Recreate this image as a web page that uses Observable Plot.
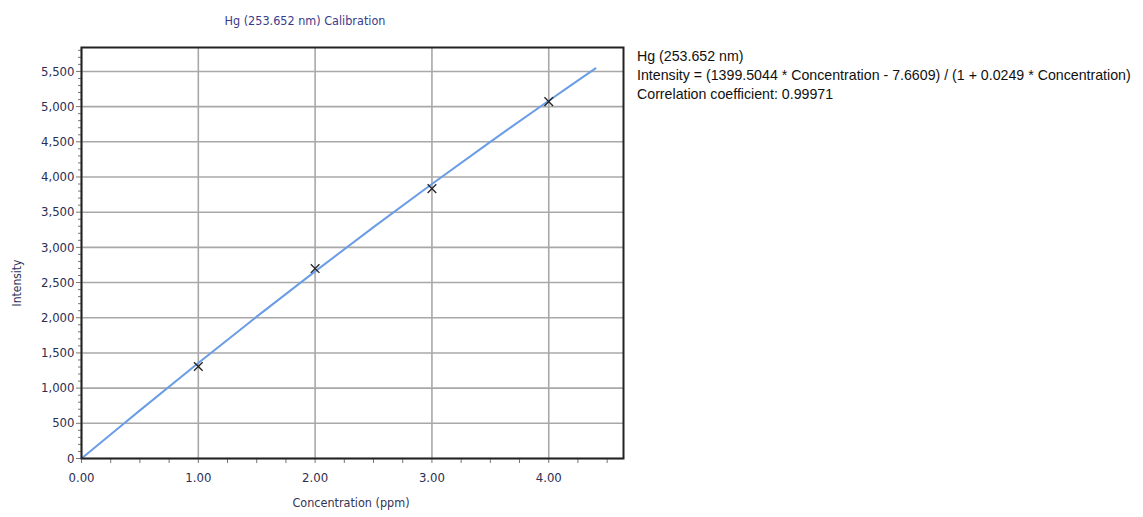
<!DOCTYPE html>
<html><head><meta charset="utf-8">
<script src="https://cdn.jsdelivr.net/npm/d3@7"></script>
<script src="https://cdn.jsdelivr.net/npm/@observablehq/plot@0.6"></script>
<style>
body{margin:0;background:#fff;}
#wrap{position:relative;width:1143px;height:517px;overflow:hidden;}
.t{position:absolute;white-space:nowrap;}
#title{left:0;width:610px;text-align:center;top:13px;font:12.5px "DejaVu Sans Condensed","Open Sans",sans-serif;color:#3a3a8c;}
#ylab{left:-7px;top:276px;transform:rotate(-90deg);transform-origin:center;font:12px "DejaVu Sans Condensed",sans-serif;color:#333355;}
#xlab{left:0;width:702px;text-align:center;top:495px;font:12.5px "DejaVu Sans Condensed",sans-serif;color:#333355;}
.leg{left:637px;font:14.2px "Liberation Sans",Arial,sans-serif;color:#111;}
</style></head>
<body><div id="wrap">
<div id="chart"></div>
<div class="t" id="title">Hg (253.652 nm) Calibration</div>
<div class="t" id="ylab">Intensity</div>
<div class="t" id="xlab">Concentration (ppm)</div>
<div class="t leg" style="top:48px">Hg (253.652 nm)</div>
<div class="t leg" style="top:67px">Intensity = (1399.5044 * Concentration - 7.6609) / (1 + 0.0249 * Concentration)</div>
<div class="t leg" style="top:86px">Correlation coefficient: 0.99971</div>
</div>
<script>
// Calibration standards (measured)
const stdConc = [1, 2, 3, 4];
const stdIntensity = [1307, 2699, 3835, 5071];
// Fitted calibration curve
const curveConc = [0, 0.5, 1, 1.5, 2, 2.5, 3, 3.5, 4, 4.4];
const curveIntensity = [0, 684, 1358, 2016, 2659, 3287, 3900, 4499, 5084, 5543];
// Axes
const xTicks = [0, 1, 2, 3, 4];
const xMinor = [0.25, 0.5, 0.75, 1.25, 1.5, 1.75, 2.25, 2.5, 2.75, 3.25, 3.5, 3.75, 4.25, 4.5];
const yTicks = [0, 500, 1000, 1500, 2000, 2500, 3000, 3500, 4000, 4500, 5000, 5500];
const yMinor = [];
for (let v = 0; v <= 5800; v += 100) if (v % 500) yMinor.push(v);

const standards = stdConc.map((c, i) => ({c, v: stdIntensity[i]}));
const curve = curveConc.map((c, i) => ({c, v: curveIntensity[i]}));

const chart = Plot.plot({
  width: 1143, height: 517,
  marginLeft: 81, marginRight: 520, marginTop: 47, marginBottom: 59,
  style: {background: "#fff", fontFamily: '"DejaVu Sans Condensed",sans-serif', fontSize: "13px", color: "#2e2e50"},
  x: {domain: [0, 4.64]},
  y: {domain: [0, 5840]},
  marks: [
    Plot.gridX(xTicks, {stroke: "#a8a8a8", strokeOpacity: 1, strokeWidth: 1.6}),
    Plot.gridY(yTicks, {stroke: "#a8a8a8", strokeOpacity: 1, strokeWidth: 1.6}),
    Plot.axisX(xMinor, {tickSize: 5, tickFormat: () => "", label: null, stroke: "#777"}),
    Plot.axisY(yMinor, {tickSize: 3, tickFormat: () => "", label: null, stroke: "#777"}),
    Plot.axisX(xTicks, {tickSize: 5, tickFormat: d3.format(".2f"), label: null, tickPadding: 9, fontSize: 13, stroke: "#777"}),
    Plot.axisY(yTicks, {tickSize: 5, tickFormat: d3.format(","), label: null, tickPadding: 2, fontSize: 13, stroke: "#777"}),
    Plot.line(curve, {x: "c", y: "v", stroke: "#6a9de6", strokeWidth: 2, curve: "catmull-rom"}),
    Plot.dot(standards, {x: "c", y: "v", symbol: "times", r: 4, stroke: "#222", strokeWidth: 1.3}),
    Plot.frame({stroke: "#222", strokeWidth: 2})
  ]
});
document.getElementById("chart").appendChild(chart);
</script>
</body></html>
